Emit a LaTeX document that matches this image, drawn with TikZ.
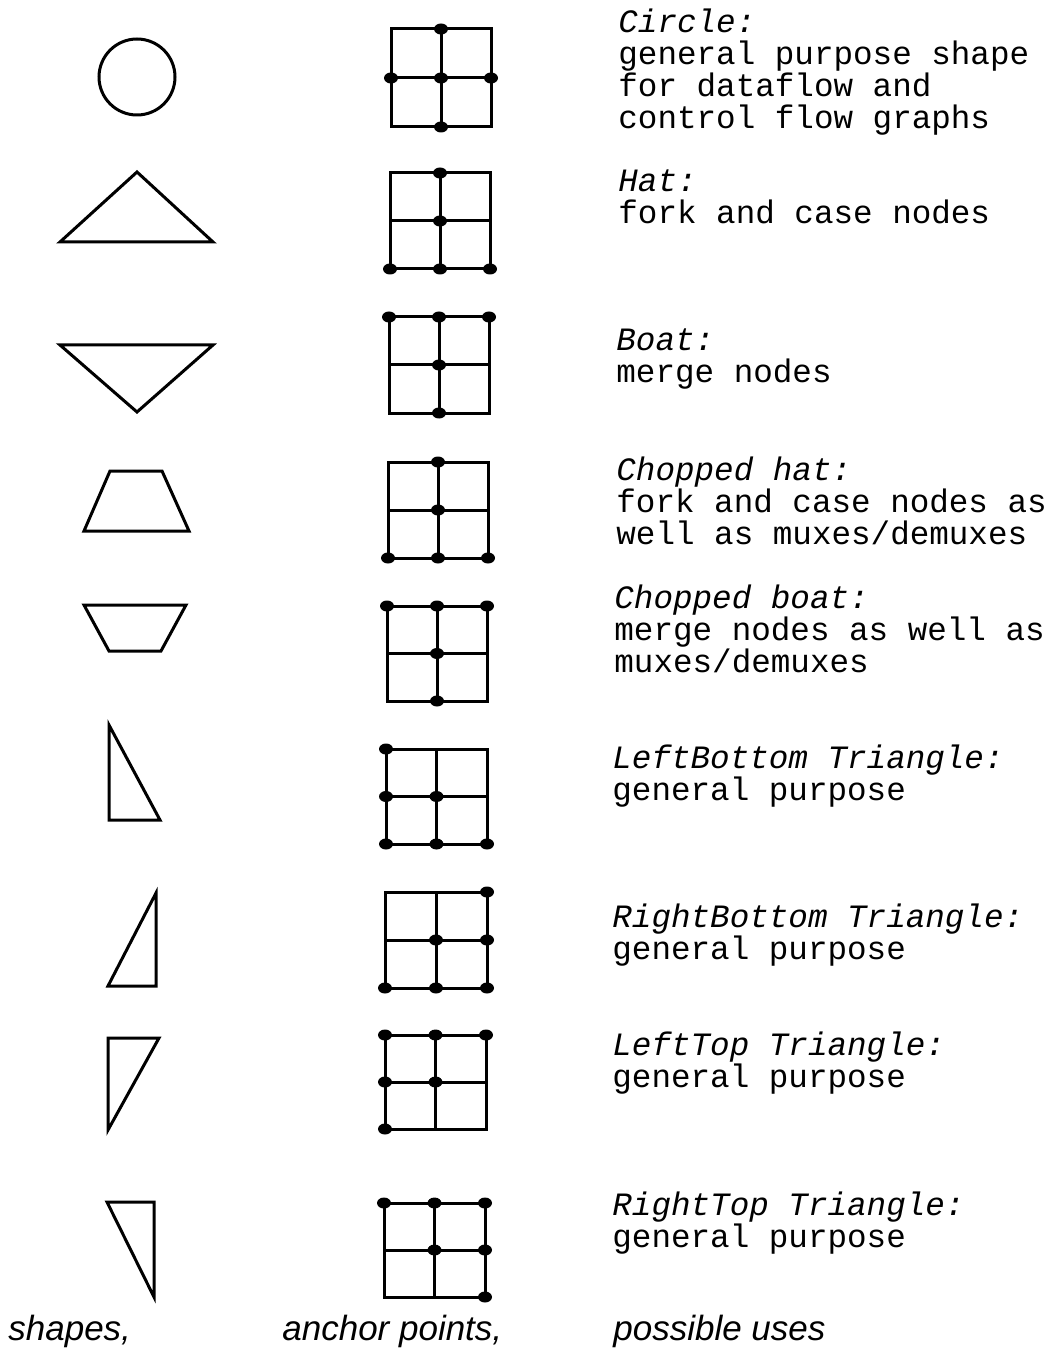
\documentclass[tikz,border=0pt]{standalone}
\usepackage{fontspec}
\newfontfamily\usesfamily{Liberation Mono}
\newfontfamily\capfamily{Liberation Sans}
\usepackage{tikz}

% anchor grid: left, top, right, bottom, dots as column/row
\newcommand{\anchorgrid}[5]{%
  \draw[gridline] (#1,#2) rectangle (#3,#4);
  \draw[gridline] ({(#1+#3)/2},#2) -- ({(#1+#3)/2},#4);
  \draw[gridline] (#1,{(#2+#4)/2}) -- (#3,{(#2+#4)/2});
  \foreach \i/\j in {#5}
    \fill ({#1+\i*(#3-#1)/2},{#2+\j*(#4-#2)/2}) circle[x radius=7, y radius=5.5];
}
\newcommand{\headstrut}{\rule{0pt}{11pt}}

\begin{document}
\begin{tikzpicture}[
  x=0.5pt, y=-0.5pt,
  outline/.style={line width=1.5pt, line join=miter},
  gridline/.style={line width=1.5pt},
  usetext/.style={anchor=north west, align=left, inner sep=0pt,
    font=\usesfamily\fontsize{16.3}{16}\selectfont},
  captext/.style={anchor=base west, inner sep=0pt,
    font=\capfamily\itshape\fontsize{17.5}{20}\selectfont},
]
  \useasboundingbox (0,0) rectangle (1056,1352);

  % shapes
  \draw[outline] (137,77) circle[radius=38];
  \draw[outline] (137,172) -- (213,242) -- (60,242) -- cycle;
  \draw[outline] (60,345) -- (213,345) -- (137,412) -- cycle;
  \draw[outline] (110,471) -- (162,471) -- (189,531) -- (84,531) -- cycle;
  \draw[outline] (84,605) -- (186,605) -- (161,651) -- (109,651) -- cycle;
  \draw[outline] (109,725) -- (160,820) -- (109,820) -- cycle;
  \draw[outline] (156,893) -- (156,986) -- (108,986) -- cycle;
  \draw[outline] (108,1038) -- (159,1038) -- (108,1130) -- cycle;
  \draw[outline] (107,1202) -- (154,1202) -- (154,1297) -- cycle;

  % anchor points
  \anchorgrid{391}{29}{491}{127}{1/0,0/1,1/1,2/1,1/2}
  \anchorgrid{390}{173}{490}{269}{1/0,1/1,0/2,1/2,2/2}
  \anchorgrid{389}{317}{489}{413}{0/0,1/0,2/0,1/1,1/2}
  \anchorgrid{388}{462}{488}{558}{1/0,1/1,0/2,1/2,2/2}
  \anchorgrid{387}{606}{487}{701}{0/0,1/0,2/0,1/1,1/2}
  \anchorgrid{386}{749}{487}{844}{0/0,0/1,1/1,0/2,1/2,2/2}
  \anchorgrid{385}{892}{487}{988}{2/0,1/1,2/1,0/2,1/2,2/2}
  \anchorgrid{385}{1035}{486}{1129}{0/0,1/0,2/0,0/1,1/1,0/2}
  \anchorgrid{384}{1203}{485}{1297}{0/0,1/0,2/0,1/1,2/1,2/2}

  % possible uses
  \node[usetext] (circleuse) at (618,8) {\headstrut\itshape Circle:\\general purpose shape\\for dataflow and\\control flow graphs};
  \node[usetext] (hatuse) at (618,169) {\headstrut\itshape Hat:\\fork and case nodes};
  \node[usetext] (boatuse) at (616,328) {\headstrut\itshape Boat:\\merge nodes};
  \node[usetext] (chophatuse) at (616,456) {\headstrut\itshape Chopped hat:\\fork and case nodes as\\well as muxes/demuxes};
  \node[usetext] (chopboatuse) at (614,584) {\headstrut\itshape Chopped boat:\\merge nodes as well as\\muxes/demuxes};
  \node[usetext] (lbuse) at (612,744) {\headstrut\itshape LeftBottom Triangle:\\general purpose};
  \node[usetext] (rbuse) at (612,903) {\headstrut\itshape RightBottom Triangle:\\general purpose};
  \node[usetext] (ltuse) at (612,1031) {\headstrut\itshape LeftTop Triangle:\\general purpose};
  \node[usetext] (rtuse) at (612,1191) {\headstrut\itshape RightTop Triangle:\\general purpose};

  % column captions
  \node[captext] (capshapes) at (8,1340) {shapes,};
  \node[captext] (capanchors) at (282,1340) {anchor points,};
  \node[captext] (capuses) at (613,1340) {possible uses};
\end{tikzpicture}
\end{document}
